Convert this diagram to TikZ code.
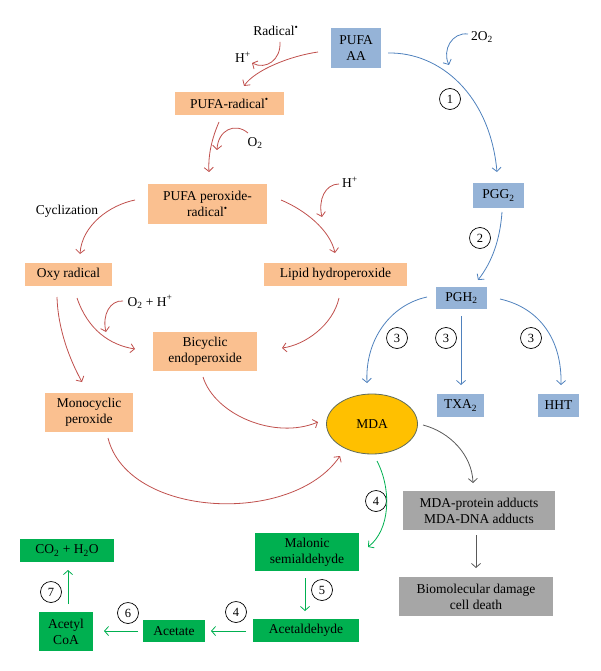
\documentclass[tikz,border=0pt]{standalone}
\usepackage{fontspec}
\setmainfont{Liberation Serif}
\usetikzlibrary{arrows.meta,shapes.geometric}
\definecolor{orfill}{HTML}{FAC090}
\definecolor{blfill}{HTML}{95B3D7}
\definecolor{grfill}{HTML}{00B050}
\definecolor{gyfill}{HTML}{A6A6A6}
\definecolor{mdafill}{HTML}{FFC000}
\definecolor{mdaline}{HTML}{5F6B5A}
\definecolor{redarr}{HTML}{C0504D}
\definecolor{bluarr}{HTML}{4F81BD}
\definecolor{grnarr}{HTML}{00B050}
\definecolor{gryarr}{HTML}{595959}
\tikzset{
  box/.style={inner sep=0pt, align=center, font=\fontsize{13.5}{16}\selectfont},
  obox/.style={box, fill=orfill},
  bbox/.style={box, fill=blfill},
  gbox/.style={box, fill=grfill},
  ybox/.style={box, fill=gyfill},
  lbl/.style={inner sep=0pt, font=\fontsize{13.5}{16}\selectfont},
  num/.style={circle, draw=black, line width=0.7pt, minimum size=21pt, inner sep=0pt, font=\fontsize{12.5}{14}\selectfont},
  arr/.style={line width=0.8pt, -{Straight Barb[length=4pt,width=9pt]}},
  rarr/.style={arr, draw=redarr},
  barr/.style={arr, draw=bluarr},
  garr/.style={arr, draw=grnarr},
  yarr/.style={arr, draw=gryarr},
}
\begin{document}
\begin{tikzpicture}[x=1pt,y=-1pt]
\useasboundingbox (0,0) rectangle (600,671);
% boxes
\node[bbox, minimum width=50pt, minimum height=40pt] (pufa) at (356,48) {PUFA\\AA};
\node[obox, minimum width=109pt, minimum height=23pt] (prad) at (229.5,103.5) {PUFA-radical\textsuperscript{\textbullet}};
\node[obox, minimum width=119pt, minimum height=40pt] (pper) at (207.5,204) {PUFA peroxide-\\radical\textsuperscript{\textbullet}};
\node[obox, minimum width=87pt, minimum height=23pt] (oxy) at (68.5,274.5) {Oxy radical};
\node[obox, minimum width=143pt, minimum height=23pt] (lipid) at (335.5,274.5) {Lipid hydroperoxide};
\node[obox, minimum width=104pt, minimum height=39pt] (bic) at (205,351.5) {Bicyclic\\endoperoxide};
\node[obox, minimum width=88pt, minimum height=39pt] (mono) at (89,412.5) {Monocyclic\\peroxide};
\node[bbox, minimum width=51pt, minimum height=25pt] (pgg) at (498.5,195.5) {PGG\textsubscript{2}};
\node[bbox, minimum width=51pt, minimum height=22pt] (pgh) at (461.5,298) {PGH\textsubscript{2}};
\node[bbox, minimum width=47pt, minimum height=23pt] (txa) at (460.5,405.5) {TXA\textsubscript{2}};
\node[bbox, minimum width=41pt, minimum height=23pt] (hht) at (558.5,405.5) {HHT};
\node[ellipse, draw=mdaline, line width=0.8pt, fill=mdafill, minimum width=91pt, minimum height=60pt, inner sep=0pt, font=\fontsize{13.5}{16}\selectfont] (mda) at (372,424) {MDA};
\node[ybox, minimum width=152pt, minimum height=39pt] (adduct) at (479,510.5) {MDA-protein adducts\\MDA-DNA adducts};
\node[ybox, minimum width=154pt, minimum height=39pt] (bio) at (476,596.5) {Biomolecular damage\\cell death};
\node[gbox, minimum width=104pt, minimum height=38pt] (mal) at (307,552) {Malonic\\semialdehyde};
\node[gbox, minimum width=106pt, minimum height=23pt] (ald) at (306,630.5) {Acetaldehyde};
\node[gbox, minimum width=62pt, minimum height=22pt] (acet) at (174,631) {Acetate};
\node[gbox, minimum width=54pt, minimum height=39pt] (acoa) at (66,631.5) {Acetyl\\CoA};
\node[gbox, minimum width=94pt, minimum height=23pt] (co2) at (67,550.5) {CO\textsubscript{2} + H\textsubscript{2}O};
% labels
\node[lbl] (rad) at (276,31) {Radical\textsuperscript{\textbullet}};
\node[lbl] (hp1) at (243,57) {H\textsuperscript{+}};
\node[lbl] (o2a) at (255,143) {O\textsubscript{2}};
\node[lbl] (cyc) at (67,211) {Cyclization};
\node[lbl] (hp2) at (350,182) {H\textsuperscript{+}};
\node[lbl] (o2h) at (150,302) {O\textsubscript{2} + H\textsuperscript{+}};
\node[lbl] (two) at (482,37) {2O\textsubscript{2}};
% step numbers
\node[num] (c1) at (450,99) {1};
\node[num] (c2) at (480,238) {2};
\node[num] (c3a) at (397,338) {3};
\node[num] (c3b) at (446,338) {3};
\node[num] (c3c) at (531,338) {3};
\node[num] (c4a) at (376,501) {4};
\node[num] (c5) at (322,590) {5};
\node[num] (c4b) at (236,612) {4};
\node[num] (c6) at (128,613) {6};
\node[num] (c7) at (51,592) {7};
% red lipid peroxidation arrows
\draw[rarr] ([shift={(-38,4)}]pufa.center) .. controls (290,56) and (255,70) .. ([shift={(14.5,-17.5)}]prad.center);
\draw[rarr] ([shift={(4,11)}]rad.center) .. controls (281,60) and (266,70) .. ([shift={(9,6)}]hp1.center);
\draw[rarr] ([shift={(-10.5,18.5)}]prad.center) .. controls (212,138) and (208,155) .. ([shift={(1.5,-32)}]pper.center);
\draw[rarr] ([shift={(-7,-10)}]o2a.center) .. controls (235,122) and (218,130) .. ([shift={(-38,7)}]o2a.center);
\draw[rarr] ([shift={(-72.5,-4)}]pper.center) .. controls (110,205) and (82,225) .. ([shift={(11.5,-20.5)}]oxy.center);
\draw[rarr] ([shift={(73.5,-4)}]pper.center) .. controls (305,210) and (330,230) .. ([shift={(-0.5,-21.5)}]lipid.center);
\draw[rarr] ([shift={(-11,2)}]hp2.center) .. controls (325,184) and (318,200) .. ([shift={(-28,35)}]hp2.center);
\draw[rarr] ([shift={(8.5,23.5)}]oxy.center) .. controls (88,330) and (110,345) .. ([shift={(-70,-2.5)}]bic.center);
\draw[rarr] ([shift={(-27,-1)}]o2h.center) .. controls (110,300) and (102,315) .. ([shift={(-44,30)}]o2h.center);
\draw[rarr] ([shift={(-11.5,22.5)}]oxy.center) .. controls (58,330) and (70,360) .. ([shift={(-7,-30.5)}]mono.center);
\draw[rarr] ([shift={(3.5,23.5)}]lipid.center) .. controls (333,325) and (305,345) .. ([shift={(77,-3.5)}]bic.center);
\draw[rarr] ([shift={(-2,25.5)}]bic.center) .. controls (215,415) and (275,440) .. ([shift={(-54,-2)}]mda.center);
\draw[rarr] ([shift={(19,25.5)}]mono.center) .. controls (128,518) and (292,526) .. ([shift={(-32,32)}]mda.center);
% blue cyclooxygenase arrows
\draw[barr] ([shift={(32,5)}]pufa.center) .. controls (440,52) and (490,95) .. ([shift={(-1.5,-23.5)}]pgg.center);
\draw[barr] ([shift={(-14,-3)}]two.center) .. controls (452,32) and (442,50) .. ([shift={(-33,28)}]two.center);
\draw[barr] ([shift={(3.5,16.5)}]pgg.center) .. controls (500,240) and (492,262) .. ([shift={(16.5,-18)}]pgh.center);
\draw[barr] ([shift={(-34.5,-1)}]pgh.center) .. controls (390,305) and (365,340) .. ([shift={(-5,-41)}]mda.center);
\draw[barr] ([shift={(-0.5,18)}]pgh.center) -- ([shift={(0.5,-20.5)}]txa.center);
\draw[barr] ([shift={(38.5,1)}]pgh.center) .. controls (540,308) and (562,340) .. ([shift={(2.5,-20.5)}]hht.center);
% gray arrows
\draw[yarr] ([shift={(51,1)}]mda.center) .. controls (450,432) and (472,455) .. ([shift={(-6,-27.5)}]adduct.center);
\draw[yarr] ([shift={(-3,24.5)}]adduct.center) -- ([shift={(0,-28.5)}]bio.center);
% green arrows
\draw[garr] ([shift={(5,37)}]mda.center) .. controls (392,490) and (390,530) .. ([shift={(61,-5)}]mal.center);
\draw[garr] ([shift={(-2,26)}]mal.center) -- ([shift={(-1,-19.5)}]ald.center);
\draw[garr] ([shift={(-60,0.5)}]ald.center) -- ([shift={(37,0)}]acet.center);
\draw[garr] ([shift={(-36,0)}]acet.center) -- ([shift={(38,-0.5)}]acoa.center);
\draw[garr] ([shift={(2,-27.5)}]acoa.center) -- ([shift={(1,19.5)}]co2.center);
\end{tikzpicture}
\end{document}
